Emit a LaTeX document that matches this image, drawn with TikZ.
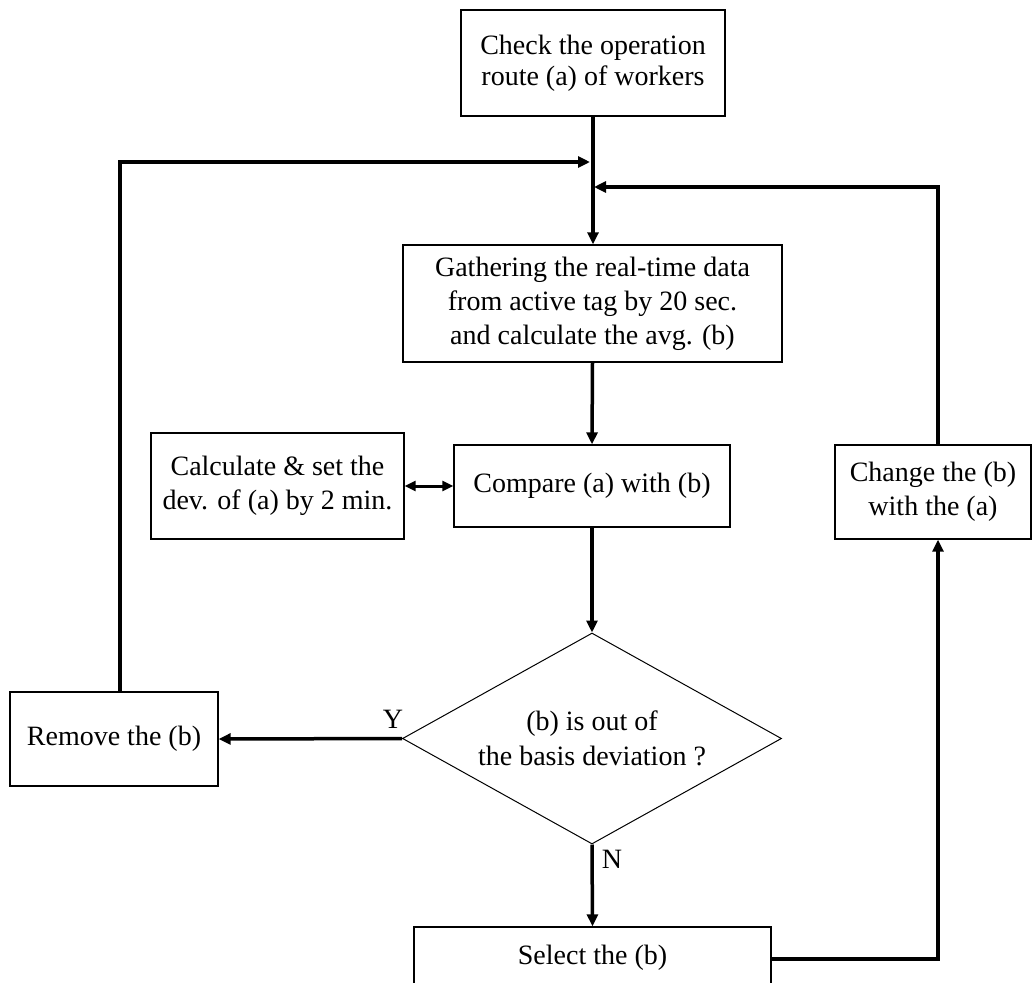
\documentclass[tikz,border=0pt]{standalone}
\usepackage{fontspec}
\setmainfont{Liberation Serif}
\usetikzlibrary{arrows.meta,shapes.geometric}
\begin{document}
\begin{tikzpicture}[x=1pt,y=-1pt,
  box/.style={draw,line width=1.4pt,rectangle,inner sep=0pt,align=center,
    font=\fontsize{28}{34}\selectfont},
  dec/.style={draw,line width=1pt,diamond,aspect=1.8,inner sep=0pt,align=center,
    font=\fontsize{28}{35}\selectfont},
  conn/.style={line width=3.5pt,-{Triangle[length=12pt,width=11pt]}},
  dconn/.style={line width=3pt,{Triangle[length=11pt,width=10pt]}-{Triangle[length=11pt,width=10pt]}},
  lbl/.style={font=\fontsize{28}{34}\selectfont,inner sep=0pt}]
\clip (0,0) rectangle (1034,983);
\fill[white] (0,0) rectangle (1034,983);
\node[box,minimum width=264pt,minimum height=106pt,font=\fontsize{28}{31}\selectfont] (top) at (593,63) {Check the operation\\route (a) of workers};
\node[box,minimum width=379pt,minimum height=117pt] (gather) at (592.5,303.5) {Gathering the real-time data\\from active tag by 20 sec.\\and calculate the avg. (b)};
\node[box,minimum width=276pt,minimum height=82pt] (compare) at (592,486) {Compare (a) with (b)};
\node[box,minimum width=253pt,minimum height=106pt] (calc) at (277.5,486) {Calculate \& set the\\dev. of (a) by 2 min.};
\node[box,minimum width=196pt,minimum height=94pt] (change) at (933,492) {Change the (b)\\with the (a)};
\node[box,minimum width=208pt,minimum height=94pt] (remove) at (114,739) {Remove the (b)};
\node[dec,minimum width=379pt,minimum height=211pt] (dec) at (592,738.5) {(b) is out of\\the basis deviation ?};
\node[box,minimum width=357pt,minimum height=62pt] (select) at (592.5,958) {Select the (b)};
\node[lbl] (y) at (393,719) {Y};
\node[lbl] (n) at (612,859) {N};
\coordinate (jl) at (590,162);
\coordinate (jr) at (594,187);
\draw[conn] (top.south) -- (top.south |- gather.north);
\draw[conn] ([xshift=6pt]remove.north) |- (jl);
\draw[conn] ([xshift=5pt]change.north) |- (jr);
\draw[conn] (gather.south) -- (compare.north);
\draw[dconn] (calc.east) -- (compare.west);
\draw[conn] (compare.south) -- (dec.north);
\draw[conn] (dec.west) -- (remove.east);
\draw[conn] (dec.south) -- (select.north);
\draw[conn] ([yshift=-1pt]select.east) -| ([xshift=5pt]change.south);
\end{tikzpicture}
\end{document}
